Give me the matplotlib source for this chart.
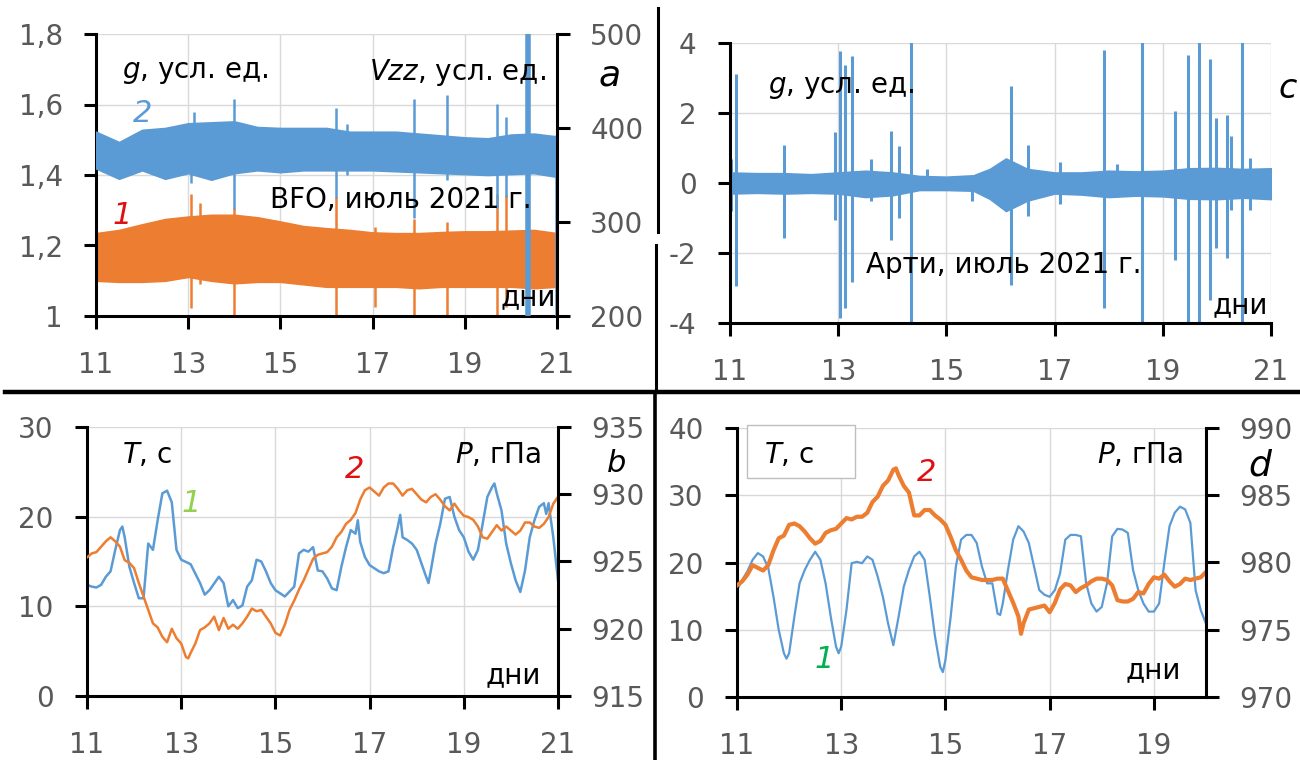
import matplotlib.pyplot as plt
from matplotlib.lines import Line2D
from matplotlib.patches import Rectangle

plt.rcParams['font.family'] = ['DejaVu Sans']
plt.rcParams['axes.unicode_minus'] = False
plt.rcParams['mathtext.fontset'] = 'dejavusans'

BLUE = '#5B9BD5'
ORANGE = '#ED7D31'
GRAY = '#595959'
GRID = '#D9D9D9'
RED = '#E01010'

# ---- panel a: BFO, envelopes of the noisy records (g left axis, Vzz right axis)
a_days = [11.0, 11.5, 12.0, 12.5, 13.0, 13.5, 14.0, 14.5, 15.0, 15.5, 16.0,
          16.5, 17.0, 17.5, 18.0, 18.5, 19.0, 19.5, 20.0, 20.5, 21.0]
a_g_top = [1.235, 1.244, 1.26, 1.275, 1.282, 1.287, 1.287, 1.28, 1.268, 1.255, 1.249,
           1.244, 1.237, 1.235, 1.235, 1.238, 1.24, 1.24, 1.242, 1.244, 1.235]
a_g_bot = [1.10, 1.097, 1.097, 1.10, 1.111, 1.10, 1.093, 1.097, 1.097, 1.09, 1.083,
           1.083, 1.083, 1.083, 1.079, 1.083, 1.083, 1.083, 1.083, 1.079, 1.083]
a_vzz_top = [396, 385, 398, 400, 405, 406, 407, 401, 400, 400, 400,
             396, 396, 396, 394, 392, 390, 389, 393, 394, 391]
a_vzz_bot = [357, 346, 355, 346, 352, 345, 352, 355, 353, 355, 355,
             355, 355, 354, 353, 352, 351, 350, 351, 352, 348]
a_g_spike_t = [13.05, 13.25, 14.0, 16.2, 17.05, 17.9, 18.62, 19.7, 19.9]
a_g_spike_top = [1.347, 1.32, 1.305, 1.338, 1.253, 1.276, 1.267, 1.347, 1.342]
a_g_spike_bot = [1.022, 1.09, 1.0, 1.0, 1.026, 1.0, 1.0, 1.0, 1.026]
a_vzz_spike_t = [13.05, 13.12, 14.0, 16.21, 16.45, 17.9, 18.62, 19.7, 19.9, 20.98]
a_vzz_spike_top = [395, 417, 431, 421, 404, 431, 435, 426, 412, 393]
a_vzz_spike_bot = [341, 350, 314, 325, 350, 304, 345, 315, 327, 200]
a_big_spike_t = 20.38
a_big_spike = (200, 520)
a_g_ticks = [1.0, 1.2, 1.4, 1.6, 1.8]
a_g_labels = ['1', '1,2', '1,4', '1,6', '1,8']
a_vzz_ticks = [200, 300, 400, 500]

# ---- panel c: Arti, g envelope and spikes
c_days = [11.0, 11.5, 12.0, 12.5, 13.0, 13.5, 14.0, 14.5, 15.0, 15.5, 15.8,
          16.1, 16.5, 17.0, 17.5, 18.0, 18.5, 19.0, 19.5, 20.0, 20.5, 21.0]
c_top = [0.3, 0.28, 0.28, 0.25, 0.3, 0.35, 0.3, 0.2, 0.18, 0.22, 0.4,
         0.7, 0.4, 0.3, 0.3, 0.35, 0.33, 0.35, 0.42, 0.43, 0.4, 0.42]
c_bot = [-0.3, -0.28, -0.3, -0.28, -0.3, -0.4, -0.35, -0.2, -0.2, -0.22, -0.45,
         -0.8, -0.5, -0.3, -0.33, -0.4, -0.36, -0.38, -0.45, -0.46, -0.42, -0.46]
c_spike_t = [11.02, 11.11, 12.0, 12.95, 13.03, 13.12, 13.25, 13.6, 13.97, 14.13,
             14.34, 14.65, 15.48, 16.2, 16.5, 17.1, 17.91, 18.15, 18.61, 19.22,
             19.47, 19.66, 19.87, 19.99, 20.18, 20.26, 20.47, 20.62]
c_spike_top = [0.7, 3.1, 1.08, 1.45, 3.76, 3.36, 3.62, 0.7, 1.48, 1.05,
               4.5, 0.4, 0.2, 2.78, 1.1, 0.6, 3.79, 0.55, 4.5, 2.05,
               3.67, 4.5, 3.54, 1.86, 1.95, 1.33, 4.5, 0.71]
c_spike_bot = [-0.8, -2.95, -1.57, -1.05, -3.86, -3.57, -2.84, -0.5, -1.62, -1.0,
               -4.5, -0.2, -0.5, -2.9, -0.93, -0.6, -3.57, -0.4, -4.5, -2.19,
               -4.5, -4.5, -3.33, -1.86, -2.14, -0.76, -4.5, -0.76]
c_ticks = [-4, -2, 0, 2, 4]

# ---- panel b: T (s) and P (hPa), BFO
b_T_days = [11.0, 11.1, 11.2, 11.3, 11.4, 11.5, 11.6, 11.7, 11.75, 11.8, 11.9,
            12.0, 12.1, 12.2, 12.3, 12.4, 12.5, 12.6, 12.7, 12.8, 12.9, 13.0,
            13.2, 13.4, 13.5, 13.6, 13.8, 13.9, 14.0, 14.1, 14.2, 14.3, 14.4,
            14.5, 14.6, 14.7, 14.8, 14.9, 15.0, 15.2, 15.4, 15.5, 15.6, 15.7,
            15.8, 15.9, 16.0, 16.1, 16.2, 16.3, 16.4, 16.5, 16.6, 16.7, 16.75,
            16.8, 16.9, 17.0, 17.2, 17.3, 17.4, 17.5, 17.6, 17.65, 17.7, 17.8,
            17.9, 18.0, 18.1, 18.2, 18.25, 18.3, 18.4, 18.5, 18.6, 18.7, 18.8,
            18.9, 19.0, 19.1, 19.2, 19.3, 19.4, 19.5, 19.6, 19.65, 19.7, 19.8,
            19.9, 20.0, 20.1, 20.2, 20.3, 20.4, 20.5, 20.6, 20.7, 20.75, 20.8,
            20.9, 21.0]
b_T = [12.4, 12.2, 12.1, 12.4, 13.3, 13.9, 16.3, 18.5, 18.9, 17.7, 14.4,
       12.6, 10.9, 10.9, 17.0, 16.3, 19.6, 22.6, 22.9, 21.6, 16.3, 15.2,
       14.7, 12.6, 11.3, 11.8, 13.3, 12.6, 10.0, 10.7, 9.8, 10.1, 12.2,
       12.9, 15.2, 15.0, 13.9, 12.6, 11.8, 11.1, 12.2, 15.9, 16.3, 16.1,
       16.6, 14.0, 13.9, 13.1, 12.0, 11.8, 14.4, 16.6, 18.5, 18.1, 19.6,
       17.2, 15.5, 14.6, 13.9, 13.7, 13.9, 16.6, 18.9, 20.2, 17.7, 17.4,
       17.0, 16.3, 14.8, 13.3, 12.6, 14.0, 17.0, 19.2, 22.0, 22.2, 20.0,
       18.5, 17.7, 16.1, 15.2, 16.3, 19.2, 22.2, 23.3, 23.7, 22.6, 20.7,
       17.0, 14.8, 12.9, 11.6, 14.0, 17.7, 19.6, 21.1, 21.5, 20.3, 21.5,
       17.7, 12.9]
b_P_days = [11.0, 11.1, 11.2, 11.3, 11.4, 11.5, 11.6, 11.7, 11.8, 11.9,
            12.0, 12.1, 12.2, 12.3, 12.4, 12.5, 12.6, 12.7, 12.8, 12.9,
            13.0, 13.1, 13.15, 13.2, 13.3, 13.4, 13.5, 13.6, 13.7, 13.8, 13.9,
            14.0, 14.1, 14.2, 14.3, 14.4, 14.5, 14.6, 14.7, 14.8, 14.9,
            15.0, 15.1, 15.2, 15.3, 15.4, 15.5, 15.6, 15.7, 15.8, 15.9,
            16.0, 16.1, 16.2, 16.3, 16.4, 16.5, 16.6, 16.7, 16.8, 16.9,
            17.0, 17.1, 17.2, 17.3, 17.4, 17.5, 17.6, 17.7, 17.8, 17.9,
            18.0, 18.1, 18.2, 18.3, 18.4, 18.5, 18.6, 18.7, 18.8, 18.9,
            19.0, 19.1, 19.2, 19.3, 19.4, 19.5, 19.6, 19.7, 19.8, 19.9,
            20.0, 20.1, 20.2, 20.3, 20.4, 20.5, 20.6, 20.7, 20.8, 20.9, 21.0]
b_P = [925.3, 925.6, 925.7, 926.1, 926.5, 926.8, 926.5, 926.1, 925.1, 924.9,
       924.5, 923.4, 922.4, 921.4, 920.4, 920.1, 919.4, 919.0, 920.0, 919.3,
       918.9, 917.9, 917.8, 918.2, 918.9, 919.9, 920.1, 920.4, 920.9, 919.9, 920.8,
       920.0, 920.3, 920.0, 920.4, 920.9, 921.5, 921.3, 921.4, 920.9, 920.4,
       919.7, 919.5, 920.3, 921.4, 922.1, 922.9, 923.6, 924.4, 925.2, 925.5,
       925.6, 925.7, 926.1, 926.8, 927.2, 927.8, 928.1, 928.6, 929.6, 930.3,
       930.5, 930.2, 929.9, 930.5, 930.8, 930.8, 930.4, 929.9, 930.3, 930.4,
       930.0, 929.6, 929.4, 929.8, 930.0, 929.6, 929.1, 928.8, 929.3, 928.8,
       928.4, 928.3, 928.1, 927.6, 926.8, 926.7, 927.2, 927.7, 927.3, 927.6,
       927.3, 927.0, 927.3, 927.9, 927.9, 927.6, 927.5, 927.8, 928.3, 929.3, 929.8]

# ---- panel d: T (s) and P (hPa), Arti
d_T_days = [11.0, 11.1, 11.2, 11.3, 11.4, 11.5, 11.6, 11.7, 11.8, 11.9, 11.95,
            12.0, 12.1, 12.2, 12.3, 12.4, 12.5, 12.6, 12.7, 12.8, 12.9, 12.95,
            13.0, 13.1, 13.2, 13.3, 13.4, 13.5, 13.6, 13.7, 13.8, 13.9, 14.0,
            14.1, 14.2, 14.3, 14.4, 14.5, 14.6, 14.7, 14.8, 14.9, 14.95, 15.0,
            15.1, 15.2, 15.3, 15.4, 15.5, 15.6, 15.7, 15.8, 15.9, 16.0, 16.05,
            16.1, 16.2, 16.3, 16.4, 16.5, 16.6, 16.7, 16.8, 16.9, 17.0, 17.1,
            17.2, 17.3, 17.4, 17.5, 17.6, 17.7, 17.8, 17.9, 18.0, 18.1, 18.2,
            18.3, 18.4, 18.5, 18.6, 18.7, 18.8, 18.9, 19.0, 19.1, 19.2, 19.3,
            19.4, 19.5, 19.6, 19.7, 19.8, 19.9, 20.0]
d_T = [15.9, 17.4, 18.7, 20.4, 21.4, 20.9, 19.2, 14.9, 10.0, 6.5, 5.7,
       6.5, 11.9, 16.9, 18.9, 20.4, 21.6, 20.4, 16.9, 11.9, 7.5, 6.5,
       7.5, 12.9, 19.9, 20.1, 19.9, 20.9, 20.4, 17.9, 14.9, 10.9, 7.7,
       11.9, 16.4, 18.9, 20.9, 21.6, 20.4, 14.9, 9.0, 4.5, 3.7, 5.5,
       11.9, 19.4, 23.4, 24.1, 24.1, 22.9, 19.4, 16.9, 16.9, 12.4, 12.2,
       13.9, 18.9, 23.4, 25.4, 24.6, 22.9, 19.4, 15.9, 15.2, 14.9, 15.9,
       18.4, 23.4, 24.1, 24.1, 23.9, 16.9, 13.9, 12.7, 13.4, 16.9, 23.9,
       25.0, 24.9, 24.4, 18.9, 15.9, 13.9, 12.7, 12.7, 13.9, 19.9, 25.4,
       27.4, 28.3, 27.9, 25.9, 15.9, 12.9, 10.9]
d_P_days = [11.0, 11.1, 11.2, 11.3, 11.4, 11.5, 11.6, 11.7, 11.8, 11.9,
            12.0, 12.1, 12.2, 12.3, 12.4, 12.5, 12.6, 12.7, 12.8, 12.9,
            13.0, 13.1, 13.2, 13.3, 13.4, 13.5, 13.6, 13.7, 13.8, 13.9,
            14.0, 14.05, 14.1, 14.2, 14.3, 14.4, 14.5, 14.6, 14.7, 14.8, 14.9,
            15.0, 15.1, 15.2, 15.3, 15.4, 15.5, 15.6, 15.7, 15.8, 15.9,
            16.0, 16.1, 16.2, 16.3, 16.4, 16.45, 16.5, 16.6, 16.7, 16.8, 16.9,
            17.0, 17.1, 17.2, 17.3, 17.4, 17.5, 17.6, 17.7, 17.8, 17.9,
            18.0, 18.1, 18.2, 18.3, 18.4, 18.5, 18.6, 18.7, 18.8, 18.9,
            19.0, 19.1, 19.2, 19.3, 19.4, 19.5, 19.6, 19.7, 19.8, 19.9, 20.0]
d_P = [978.3, 978.6, 979.1, 979.8, 979.6, 979.4, 979.8, 980.9, 981.8, 982.0,
       982.8, 982.9, 982.7, 982.3, 981.8, 981.4, 981.6, 982.2, 982.4, 982.5,
       982.9, 983.3, 983.2, 983.4, 983.4, 983.7, 984.5, 984.9, 985.7, 986.1,
       986.9, 987.0, 986.5, 985.7, 985.2, 983.5, 983.5, 983.9, 983.9, 983.5, 983.2,
       982.8, 981.9, 980.9, 980.2, 979.4, 978.9, 978.8, 978.7, 978.7, 978.7,
       978.8, 978.8, 977.9, 977.0, 976.0, 974.7, 975.5, 976.5, 976.6, 976.7, 976.8,
       976.3, 977.0, 978.0, 978.4, 978.3, 977.8, 978.1, 978.3, 978.6, 978.8,
       978.8, 978.7, 978.3, 977.2, 977.1, 977.1, 977.3, 977.8, 977.7, 978.4,
       978.9, 978.8, 979.1, 978.6, 978.2, 978.4, 978.8, 978.7, 978.8, 978.9, 979.3]

day_ticks = [11, 13, 15, 17, 19, 21]

W, H = 1300, 760
fig = plt.figure(figsize=(W / 100, H / 100), dpi=100)


def fx(x):
    return x / W


def fy(y):
    return 1 - y / H


def frame(x0, y0, x1, y1):
    # axes box given in image pixels (left, top, right, bottom)
    return fig.add_axes([fx(x0), fy(y1), (x1 - x0) / W, (y1 - y0) / H])


def style(ax):
    for s in ['top', 'right']:
        ax.spines[s].set_visible(False)
    for s in ['left', 'bottom']:
        ax.spines[s].set_linewidth(2.2)
    ax.tick_params(direction='out', length=9, width=2.2, labelsize=20,
                   labelcolor=GRAY)
    ax.tick_params(axis='x', pad=16)
    ax.tick_params(axis='y', pad=15)
    ax.grid(True, color=GRID, lw=1)
    ax.set_axisbelow(True)


def twin(ax):
    tw = ax.twinx()
    for s in ['top', 'left', 'bottom']:
        tw.spines[s].set_visible(False)
    tw.spines['right'].set_linewidth(2.2)
    tw.tick_params(direction='out', length=9, width=2.2, labelsize=20,
                   labelcolor=GRAY, pad=15)
    return tw


def label(x, y, s, ha='left', size=20, color='black', style='normal'):
    fig.text(fx(x), fy(y), s, ha=ha, va='center', fontsize=size,
             color=color, style=style)


# panel a
ax = frame(96, 34, 557, 316)
style(ax)
ax.fill_between(a_days, a_g_bot, a_g_top, color=ORANGE, lw=1.2, ec=ORANGE)
ax.vlines(a_g_spike_t, a_g_spike_bot, a_g_spike_top, color=ORANGE, lw=1.8)
ax.set_xlim(11, 21)
ax.set_ylim(1.0, 1.8)
ax.set_xticks(day_ticks)
ax.set_yticks(a_g_ticks, a_g_labels)
tw = twin(ax)
tw.fill_between(a_days, a_vzz_bot, a_vzz_top, color=BLUE, lw=1.2, ec=BLUE)
tw.vlines(a_vzz_spike_t, a_vzz_spike_bot, a_vzz_spike_top, color=BLUE, lw=1.8)
tw.vlines([a_big_spike_t], [a_big_spike[0]], [a_big_spike[1]], color=BLUE, lw=4)
tw.set_ylim(200, 500)
tw.set_yticks(a_vzz_ticks)

# panel c
ax = frame(730, 43, 1271, 323)
style(ax)
ax.fill_between(c_days, c_bot, c_top, color=BLUE, lw=1.2, ec=BLUE)
ax.vlines(c_spike_t, c_spike_bot, c_spike_top, color=BLUE, lw=2.2)
ax.set_xlim(11, 21)
ax.set_ylim(-4, 4)
ax.set_xticks(day_ticks)
ax.set_yticks(c_ticks)

# panel b
ax = frame(87, 427, 558, 696)
style(ax)
ax.plot(b_T_days, b_T, color=BLUE, lw=1.8)
ax.set_xlim(11, 21)
ax.set_ylim(0, 30)
ax.set_xticks(day_ticks)
ax.set_yticks([0, 10, 20, 30])
tw = twin(ax)
tw.plot(b_P_days, b_P, color=ORANGE, lw=1.8)
tw.set_ylim(915, 935)
tw.set_yticks([915, 920, 925, 930, 935])

# panel d
ax = frame(737, 428, 1206, 697)
style(ax)
ax.plot(d_T_days, d_T, color=BLUE, lw=1.6)
ax.set_xlim(11, 20)
ax.set_ylim(0, 40)
ax.set_xticks(day_ticks[:-1])
ax.set_yticks([0, 10, 20, 30, 40])
tw = twin(ax)
tw.plot(d_P_days, d_P, color=ORANGE, lw=3)
tw.set_ylim(970, 990)
tw.set_yticks([970, 975, 980, 985, 990])

# divider lines
for (x0, y0, x1, y1, w) in [(5, 392, 1300, 392, 3.2), (658, 8, 658, 232, 2.2),
                            (656, 245, 656, 392, 2.2), (655, 392, 655, 760, 2.6)]:
    fig.add_artist(Line2D([fx(x0), fx(x1)], [fy(y0), fy(y1)],
                          transform=fig.transFigure, color='black', lw=w))

# annotations, panel a
label(122, 72, '$g$, усл. ед.')
label(546, 72, '$Vzz$, усл. ед.', ha='right')
label(143, 113, '2', ha='center', size=22, color=BLUE, style='italic')
label(122, 215, '1', ha='center', size=22, color=RED, style='italic')
label(270, 200, 'BFO, июль 2021 г.')
label(556, 297, 'дни', ha='right')
label(610, 75, 'a', ha='center', size=26, style='italic')

# panel c
label(768, 87, '$g$, усл. ед.')
label(866, 265, 'Арти, июль 2021 г.')
label(1268, 305, 'дни', ha='right')
label(1288, 88, 'c', ha='center', size=24, style='italic')

# panel b
label(122, 455, '$T$, с')
label(541, 455, '$P$, гПа', ha='right')
label(191, 503, '1', ha='center', size=22, color='#92D050', style='italic')
label(355, 470, '2', ha='center', size=22, color=RED, style='italic')
label(541, 675, 'дни', ha='right')
label(617, 464, 'b', ha='center', size=22, style='italic')

# panel d
fig.add_artist(Rectangle((fx(747), fy(478)), (855 - 747) / W, (478 - 425) / H,
                         transform=fig.transFigure, fc='white', ec='#BFBFBF', lw=1))
label(764, 455, '$T$, с')
label(1183, 455, '$P$, гПа', ha='right')
label(927, 472, '2', ha='center', size=22, color=RED, style='italic')
label(824, 660, '1', ha='center', size=22, color='#00B050', style='italic')
label(1181, 670, 'дни', ha='right')
label(1260, 466, 'd', ha='center', size=26, style='italic')

fig.savefig('out.png', dpi=100)
